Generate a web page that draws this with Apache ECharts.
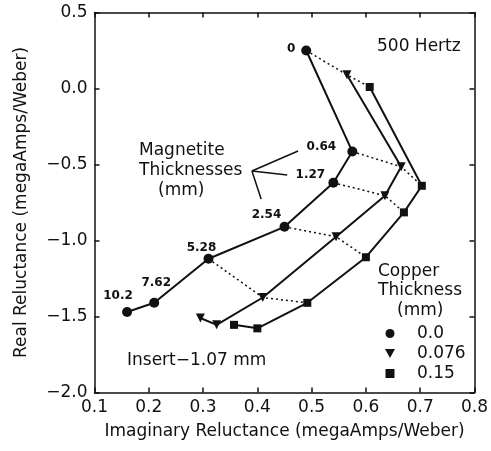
<!DOCTYPE html>
<html>
<head>
<meta charset="utf-8">
<script src="https://cdn.jsdelivr.net/npm/echarts@6/dist/echarts.min.js"></script>
<style>
  html, body { margin: 0; padding: 0; background: #fff; }
  #main { width: 491px; height: 451px; }
</style>
</head>
<body>
<div id="main"></div>
<script>
// magnetite thickness labels (mm), same order as the points below
const magnetite = ['0', '0.64', '1.27', '2.54', '5.28', '7.62', '10.2'];
// [imaginary, real] reluctance for each copper thickness
const copper000 = [[0.49, 0.25], [0.575, -0.415], [0.54, -0.62], [0.45, -0.91], [0.31, -1.12], [0.21, -1.41], [0.16, -1.47]];
const copper076 = [[0.565, 0.09], [0.665, -0.515], [0.635, -0.705], [0.545, -0.975], [0.41, -1.375], [0.325, -1.555], [0.295, -1.51]];
const copper015 = [[0.607, 0.01], [0.703, -0.64], [0.67, -0.815], [0.6, -1.11], [0.492, -1.41], [0.40, -1.578], [0.357, -1.555]];
const copperNames = ['0.0', '0.076', '0.15'];
// dotted lines join equal magnetite thickness for first 5
const joined = 5;
// leader lines of the "Magnetite Thicknesses" note
const leaderFrom = [0.39, -0.543];
const leaderTo = [[0.475, -0.411], [0.455, -0.569], [0.407, -0.727]];

const xTicks = [0.1, 0.8, 0.1];
const yTicks = [-2.0, 0.5, 0.5];

// label offsets for the thickness numbers (px)
const labelOffsets = [[-15, -2], [-31, -5], [-23, -8], [-18, -12], [-7, -11], [2, -20], [-9, -16]];

const font = 'DejaVu Sans';
const ink = '#111';
const triDown = 'path://M0,0L10,0L5,9Z';
const square = 'path://M0,0L8,0L8,8L0,8Z';

let myChart = echarts.init(document.getElementById('main'));

const minus = v => v.toFixed(1).replace('-', '\u2212');

let dotted = [];
for (let i = 0; i < joined; i++) {
  dotted.push({ coords: [copper000[i], copper076[i], copper015[i]] });
}

const frameLine = { show: true, onZero: false, lineStyle: { color: ink, width: 1.5 } };
const frameTick = { inside: true, length: 5, lineStyle: { color: ink, width: 1.5 } };

let option = {
  animation: false,
  grid: { left: 94.5, right: 16.5, top: 12.5, bottom: 58.5 },
  legend: {
    orient: 'vertical',
    left: 380,
    top: 320,
    itemWidth: 44,
    itemHeight: 9,
    itemGap: 3,
    data: [
      { name: copperNames[0], icon: 'circle' },
      { name: copperNames[1], icon: triDown },
      { name: copperNames[2], icon: square }
    ],
    textStyle: { fontFamily: font, fontSize: 17, color: ink },
    itemStyle: { color: ink }
  },
  xAxis: [{
    type: 'value', min: xTicks[0], max: xTicks[1], interval: xTicks[2],
    name: 'Imaginary Reluctance (megaAmps/Weber)',
    nameLocation: 'middle', nameGap: 31,
    nameTextStyle: { fontFamily: font, fontSize: 17, color: ink },
    axisLine: frameLine, axisTick: frameTick,
    axisLabel: { fontFamily: font, fontSize: 17, color: ink, margin: 7, formatter: v => minus(v) },
    splitLine: { show: false }
  }, {
    type: 'value', min: xTicks[0], max: xTicks[1], interval: xTicks[2], position: 'top',
    axisLine: frameLine, axisTick: frameTick,
    axisLabel: { show: false }, splitLine: { show: false }
  }],
  yAxis: [{
    type: 'value', min: yTicks[0], max: yTicks[1], interval: yTicks[2],
    name: 'Real Reluctance (megaAmps/Weber)',
    nameLocation: 'middle', nameGap: 64,
    nameTextStyle: { fontFamily: font, fontSize: 17, color: ink },
    axisLine: frameLine, axisTick: frameTick,
    axisLabel: { fontFamily: font, fontSize: 17, color: ink, margin: 7, formatter: v => minus(v) },
    splitLine: { show: false }
  }, {
    type: 'value', min: yTicks[0], max: yTicks[1], interval: yTicks[2], position: 'right',
    axisLine: frameLine, axisTick: frameTick,
    axisLabel: { show: false }, splitLine: { show: false }
  }],
  series: [
    {
      name: copperNames[0], type: 'line', symbol: 'circle', symbolSize: 10,
      data: copper000.map((p, i) => ({
        value: p,
        label: { show: true, formatter: magnetite[i], position: 'inside', offset: labelOffsets[i] }
      })),
      label: { fontFamily: font, fontSize: 12, fontWeight: 'bold', color: ink },
      lineStyle: { color: ink, width: 2 }, itemStyle: { color: ink }
    },
    {
      name: copperNames[1], type: 'line', symbol: 'triangle', symbolRotate: 180, symbolSize: 9,
      data: copper076,
      lineStyle: { color: ink, width: 2 }, itemStyle: { color: ink }
    },
    {
      name: copperNames[2], type: 'line', symbol: 'rect', symbolSize: 8,
      data: copper015,
      lineStyle: { color: ink, width: 2 }, itemStyle: { color: ink }
    },
    {
      type: 'lines', coordinateSystem: 'cartesian2d', polyline: true, silent: true,
      data: dotted,
      lineStyle: { color: ink, width: 1.5, type: [2, 3], opacity: 1 }
    },
    {
      type: 'lines', coordinateSystem: 'cartesian2d', silent: true,
      data: leaderTo.map(p => ({ coords: [leaderFrom, p] })),
      lineStyle: { color: ink, width: 1.5, opacity: 1 }
    }
  ],
  graphic: [
    { type: 'text', left: 377, top: 38, style: { text: '500 Hertz', font: '17px ' + font, fill: ink } },
    { type: 'text', left: 139, top: 142, style: { text: 'Magnetite', font: '17px ' + font, fill: ink } },
    { type: 'text', left: 139, top: 162, style: { text: 'Thicknesses', font: '17px ' + font, fill: ink } },
    { type: 'text', left: 158, top: 182, style: { text: '(mm)', font: '17px ' + font, fill: ink } },
    { type: 'text', left: 378, top: 263, style: { text: 'Copper', font: '17px ' + font, fill: ink } },
    { type: 'text', left: 378, top: 282, style: { text: 'Thickness', font: '17px ' + font, fill: ink } },
    { type: 'text', left: 397, top: 302, style: { text: '(mm)', font: '17px ' + font, fill: ink } },
    { type: 'text', left: 127, top: 352, style: { text: 'Insert\u22121.07 mm', font: '17px ' + font, fill: ink } }
  ]
};

myChart.setOption(option);
</script>
</body>
</html>
